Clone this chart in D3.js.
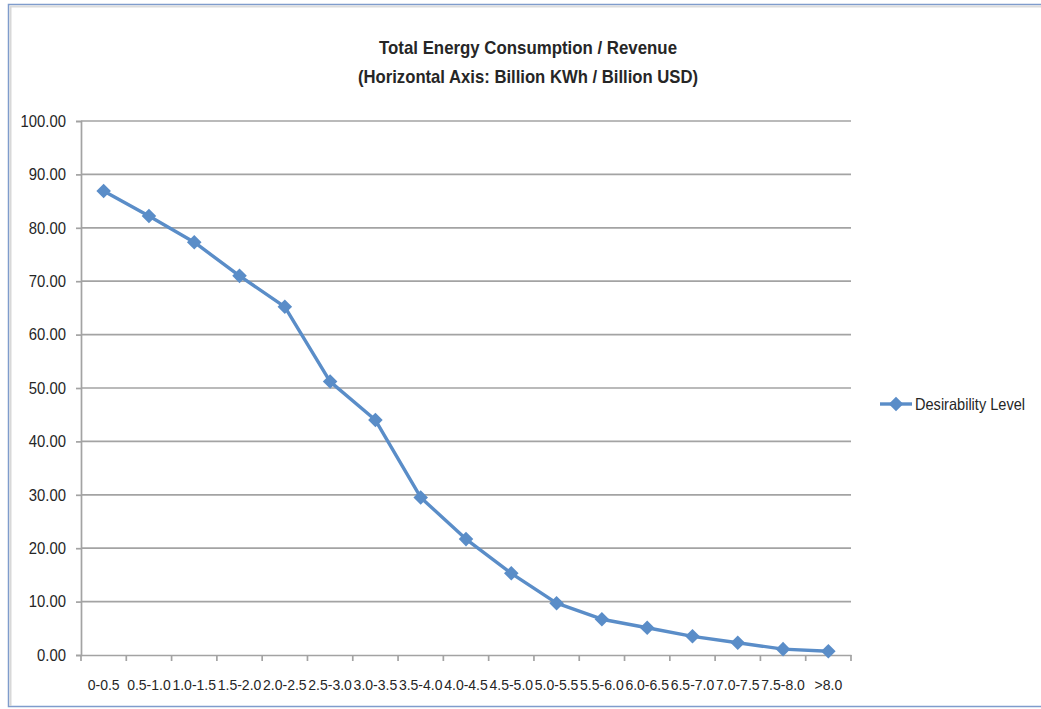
<!DOCTYPE html>
<html>
<head>
<meta charset="utf-8">
<script src="https://cdn.jsdelivr.net/npm/d3@7"></script>
<style>
  html, body { margin: 0; padding: 0; background: #fff; }
  svg { display: block; }
  text { font-family: "Liberation Sans", Arial, sans-serif; fill: #262626; }
</style>
</head>
<body>
<svg id="chart" width="1041" height="709"></svg>
<script>
const categories = ["0-0.5","0.5-1.0","1.0-1.5","1.5-2.0","2.0-2.5","2.5-3.0","3.0-3.5","3.5-4.0","4.0-4.5","4.5-5.0","5.0-5.5","5.5-6.0","6.0-6.5","6.5-7.0","7.0-7.5","7.5-8.0",">8.0"];
const desirability = [86.9, 82.2, 77.3, 71.0, 65.2, 51.2, 44.0, 29.5, 21.7, 15.3, 9.7, 6.7, 5.1, 3.5, 2.3, 1.1, 0.7];
const yTicks = [0, 10, 20, 30, 40, 50, 60, 70, 80, 90, 100];
const seriesName = "Desirability Level";
const titleLines = ["Total Energy Consumption / Revenue", "(Horizontal Axis: Billion KWh / Billion USD)"];

const svg = d3.select("#chart");
const W = 1041, H = 709;
const plot = { left: 81, right: 851, top: 121, bottom: 655 };
const lineColor = "#5a8dc8";
const gridColor = "#a3a3a3";

function condense(sel, ratio) {
  sel.each(function () {
    const len = this.getComputedTextLength();
    d3.select(this).attr("textLength", len * ratio).attr("lengthAdjust", "spacingAndGlyphs");
  });
}

// outer frame
svg.append("rect").attr("x", 0).attr("y", 0).attr("width", W).attr("height", H).attr("fill", "#fff");
svg.append("rect").attr("x", 8.5).attr("y", 4.5).attr("width", W + 10).attr("height", 702)
  .attr("fill", "none").attr("stroke", "#7f9ccc").attr("stroke-width", 1.5);
svg.append("line").attr("x1", 10).attr("x2", W).attr("y1", 6.5).attr("y2", 6.5).attr("stroke", "#dcdcdc").attr("stroke-width", 2);
svg.append("line").attr("x1", 10.5).attr("x2", 10.5).attr("y1", 6).attr("y2", 706).attr("stroke", "#d8d8d8").attr("stroke-width", 2);

const x = d3.scaleBand().domain(categories).range([plot.left, plot.right]).padding(0);
const y = d3.scaleLinear().domain([0, 100]).range([plot.bottom, plot.top]);

// gridlines
svg.append("g").selectAll("line").data(yTicks.filter(d => d > 0)).join("line")
  .attr("x1", plot.left).attr("x2", plot.right)
  .attr("y1", d => y(d)).attr("y2", d => y(d))
  .attr("stroke", gridColor).attr("stroke-width", 1.7);

// y axis
const yAxis = d3.axisLeft(y).tickValues(yTicks).tickFormat(d3.format(".2f")).tickSize(5).tickPadding(10);
const gy = svg.append("g").attr("transform", `translate(${plot.left},0)`).call(yAxis);
gy.select(".domain").attr("stroke", gridColor).attr("stroke-width", 1.7);
gy.selectAll(".tick line").attr("stroke", gridColor).attr("stroke-width", 1.7);
gy.selectAll(".tick text").attr("font-size", 16.5).attr("fill", "#262626")
  .style("font-family", '"Liberation Sans", Arial, sans-serif').call(condense, 0.9);

// x axis
const xAxis = d3.axisBottom(x).tickSize(0).tickPadding(25);
const gx = svg.append("g").attr("transform", `translate(0,${plot.bottom})`).call(xAxis);
gx.select(".domain").attr("stroke", gridColor).attr("stroke-width", 1.7);
gx.selectAll(".tick text").attr("font-size", 14).attr("fill", "#262626")
  .style("font-family", '"Liberation Sans", Arial, sans-serif');
// tick marks at category boundaries
const boundaries = categories.map(c => x(c)).concat([x(categories[categories.length - 1]) + x.bandwidth()]);
svg.append("g").selectAll("line").data(boundaries).join("line")
  .attr("x1", d => d).attr("x2", d => d)
  .attr("y1", plot.bottom).attr("y2", plot.bottom + 6)
  .attr("stroke", gridColor).attr("stroke-width", 1.7);

// series line
const cx = c => x(c) + x.bandwidth() / 2;
const line = d3.line().x((d, i) => cx(categories[i])).y(d => y(d));
svg.append("path").datum(desirability).attr("d", line)
  .attr("fill", "none").attr("stroke", lineColor).attr("stroke-width", 3.4).attr("stroke-linejoin", "round");

const diamond = d3.symbol().type(d3.symbolDiamond2).size(135);
svg.append("g").selectAll("path").data(desirability).join("path")
  .attr("d", diamond)
  .attr("transform", (d, i) => `translate(${cx(categories[i])},${y(d)})`)
  .attr("fill", lineColor);

// title
const titleWidths = [298, 340];
const title = svg.append("g");
title.selectAll("text").data(titleLines).join("text")
  .attr("x", 528).attr("y", (d, i) => 54 + i * 29)
  .attr("text-anchor", "middle").attr("font-size", 19).attr("font-weight", "bold")
  .attr("textLength", (d, i) => titleWidths[i]).attr("lengthAdjust", "spacingAndGlyphs")
  .text(d => d);

// legend
const lg = svg.append("g").attr("transform", "translate(880,404)");
lg.append("line").attr("x1", 0).attr("x2", 32).attr("y1", 0).attr("y2", 0)
  .attr("stroke", lineColor).attr("stroke-width", 3.4);
lg.append("path").attr("d", diamond).attr("transform", "translate(16,0)").attr("fill", lineColor);
lg.append("text").attr("x", 35).attr("y", 6).attr("font-size", 16.5)
  .attr("textLength", 110).attr("lengthAdjust", "spacingAndGlyphs").text(seriesName);
</script>
</body>
</html>
